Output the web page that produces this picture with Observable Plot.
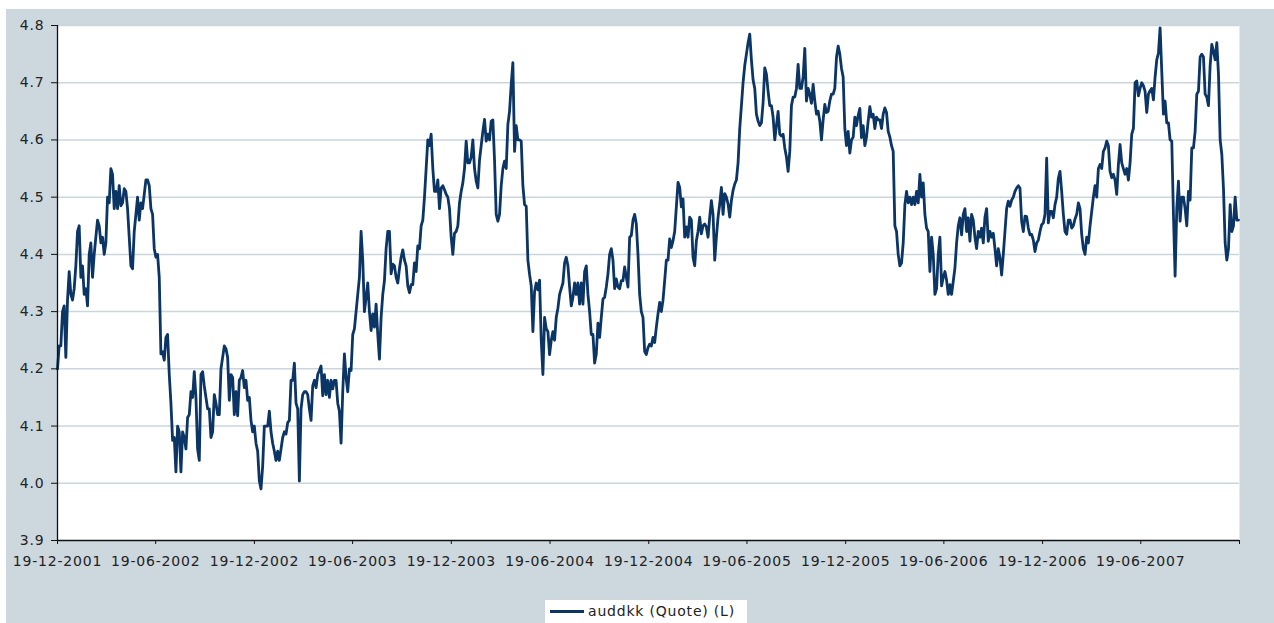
<!DOCTYPE html>
<html>
<head>
<meta charset="utf-8">
<script src="https://cdn.jsdelivr.net/npm/d3@7"></script>
<script src="https://cdn.jsdelivr.net/npm/@observablehq/plot@0.6"></script>
<style>
  html, body { margin: 0; padding: 0; background: #ffffff; width: 1274px; height: 623px; overflow: hidden; }
  #panel { position: absolute; left: 6px; top: 9px; width: 1268px; height: 614px; background: #ccd7de; }
  #chart { position: absolute; left: 0; top: 0; }
  #legend { position: absolute; left: 545px; top: 600px; width: 202px; height: 30px; background: #ffffff;
            font-family: "DejaVu Sans", Verdana, sans-serif; font-size: 14px; letter-spacing: 0.8px; color: #222; }
  #legend .sw { position: absolute; left: 5px; top: 10px; width: 34px; height: 3px; background: #0b3565; }
  #legend .tx { position: absolute; left: 43px; top: 3px; white-space: nowrap; }
</style>
</head>
<body>
<div id="panel"></div>
<div id="chart"></div>
<div id="legend"><div class="sw"></div><div class="tx"></div></div>
<script>
// ---- data ----
const seriesName = "auddkk (Quote) (L)";
const startDate = "19-12-2001";      // first sample
const stepDays = 3.092;              // sampling interval of the readings, in days

const seg1 = [
4.20, 4.24, 4.24, 4.30, 4.31, 4.22, 4.32, 4.37, 4.33, 4.32,
4.34, 4.38, 4.44, 4.45, 4.36, 4.38, 4.33, 4.34, 4.31, 4.40,
4.42, 4.36, 4.40, 4.43, 4.46, 4.45, 4.42, 4.43, 4.40, 4.42,
4.50, 4.49, 4.55, 4.54, 4.48, 4.51, 4.48, 4.52, 4.485, 4.49,
4.515, 4.51, 4.48, 4.43, 4.38, 4.375, 4.44, 4.47, 4.50, 4.46,
4.49, 4.48, 4.505, 4.53, 4.53, 4.52, 4.48, 4.47, 4.41, 4.395,
4.40, 4.36, 4.226, 4.23, 4.215, 4.255, 4.26, 4.19, 4.14, 4.075,
4.08, 4.02, 4.10, 4.09, 4.02, 4.09, 4.08, 4.06, 4.115, 4.12,
4.16, 4.15, 4.195, 4.15, 4.06, 4.04, 4.19, 4.195, 4.17, 4.15,
4.13, 4.13, 4.08, 4.09, 4.155, 4.14, 4.12, 4.12, 4.20, 4.22,
4.24];
const seg2 = [
4.235, 4.22, 4.145, 4.19, 4.185, 4.12, 4.16, 4.118, 4.18, 4.185,
4.197, 4.167, 4.18, 4.145, 4.15, 4.11, 4.09, 4.10, 4.07, 4.056,
4.004, 3.99, 4.03, 4.10, 4.10, 4.10, 4.126, 4.09, 4.07, 4.056,
4.04, 4.056, 4.04, 4.06, 4.08, 4.09, 4.086, 4.106, 4.11, 4.18,
4.18, 4.21, 4.14, 4.13, 4.004, 4.13, 4.155, 4.16, 4.16, 4.155,
4.13, 4.11, 4.17, 4.18, 4.167, 4.19, 4.197, 4.205, 4.153, 4.19,
4.155, 4.18, 4.15, 4.18, 4.165, 4.18, 4.18, 4.14, 4.126, 4.07,
4.16, 4.226, 4.185, 4.16, 4.20, 4.197, 4.26, 4.27, 4.30, 4.33,
4.36, 4.44, 4.39, 4.30, 4.325, 4.35, 4.30, 4.267, 4.296, 4.273,
4.313, 4.26, 4.217, 4.29, 4.33, 4.354, 4.41, 4.44, 4.44, 4.366,
4.383, 4.38];
const seg3 = [
4.36, 4.35, 4.375, 4.395, 4.408, 4.39, 4.38, 4.345, 4.333, 4.347,
4.347, 4.385, 4.37, 4.415, 4.41, 4.45, 4.46, 4.50, 4.55, 4.60,
4.59, 4.61, 4.55, 4.51, 4.51, 4.53, 4.48, 4.516, 4.52, 4.513,
4.505, 4.50, 4.48, 4.43, 4.40, 4.437, 4.44, 4.45, 4.49, 4.51,
4.525, 4.55, 4.598, 4.56, 4.56, 4.57, 4.60, 4.55, 4.528, 4.516,
4.565, 4.59, 4.615, 4.636, 4.598, 4.61, 4.60, 4.633, 4.635, 4.565,
4.47, 4.458, 4.47, 4.52, 4.55, 4.563, 4.55, 4.627, 4.65, 4.697,
4.735, 4.58, 4.625, 4.60, 4.60, 4.598, 4.52, 4.487, 4.484, 4.39,
4.365, 4.345, 4.265, 4.335, 4.35, 4.338, 4.355, 4.25, 4.19, 4.29,
4.27, 4.265, 4.225, 4.25, 4.265, 4.25, 4.29, 4.306, 4.33, 4.34,
4.35, 4.385];
const seg4 = [
4.395, 4.38, 4.343, 4.31, 4.325, 4.35, 4.33, 4.35, 4.313, 4.35,
4.313, 4.37, 4.38, 4.33, 4.30, 4.26, 4.26, 4.21, 4.226, 4.28,
4.255, 4.29, 4.322, 4.325, 4.343, 4.366, 4.40, 4.41, 4.39, 4.34,
4.357, 4.343, 4.34, 4.354, 4.354, 4.378, 4.36, 4.343, 4.43, 4.433,
4.46, 4.47, 4.453, 4.40, 4.33, 4.30, 4.29, 4.23, 4.225, 4.237,
4.243, 4.24, 4.255, 4.246, 4.273, 4.296, 4.316, 4.30, 4.32, 4.354,
4.39, 4.39, 4.427, 4.412, 4.424, 4.44, 4.483, 4.526, 4.517, 4.483,
4.497, 4.43, 4.448, 4.43, 4.465, 4.46, 4.395, 4.38, 4.424, 4.44,
4.465, 4.436, 4.45, 4.453, 4.448, 4.43, 4.465, 4.494, 4.47, 4.39,
4.43, 4.465, 4.488, 4.517, 4.47, 4.506, 4.50, 4.488, 4.465, 4.494,
4.512, 4.523];
const seg5 = [
4.53, 4.56, 4.62, 4.66, 4.70, 4.73, 4.75, 4.77, 4.785, 4.74,
4.705, 4.69, 4.645, 4.633, 4.625, 4.63, 4.665, 4.726, 4.715, 4.685,
4.66, 4.66, 4.64, 4.60, 4.625, 4.65, 4.61, 4.607, 4.61, 4.586,
4.57, 4.545, 4.58, 4.66, 4.675, 4.675, 4.69, 4.732, 4.69, 4.69,
4.71, 4.76, 4.668, 4.69, 4.68, 4.664, 4.697, 4.668, 4.645, 4.65,
4.633, 4.60, 4.635, 4.662, 4.648, 4.65, 4.668, 4.68, 4.68, 4.69,
4.745, 4.764, 4.75, 4.725, 4.71, 4.62, 4.59, 4.615, 4.577, 4.60,
4.605, 4.64, 4.625, 4.643, 4.655, 4.604, 4.625, 4.59, 4.605, 4.633,
4.658, 4.64, 4.645, 4.62, 4.64, 4.635, 4.635, 4.62, 4.645, 4.656,
4.648, 4.615, 4.605, 4.59, 4.58, 4.45, 4.44, 4.40, 4.38, 4.385,
4.42, 4.487];
const seg6 = [
4.51, 4.49, 4.50, 4.487, 4.50, 4.487, 4.51, 4.49, 4.54, 4.50,
4.525, 4.47, 4.446, 4.44, 4.37, 4.43, 4.40, 4.33, 4.34, 4.40,
4.43, 4.345, 4.36, 4.37, 4.355, 4.33, 4.347, 4.33, 4.353, 4.376,
4.42, 4.45, 4.464, 4.434, 4.47, 4.48, 4.44, 4.464, 4.423, 4.47,
4.46, 4.43, 4.41, 4.44, 4.43, 4.446, 4.42, 4.465, 4.48, 4.423,
4.44, 4.43, 4.437, 4.41, 4.38, 4.41, 4.394, 4.364, 4.40, 4.44,
4.48, 4.493, 4.484, 4.495, 4.50, 4.51, 4.516, 4.52, 4.516, 4.458,
4.44, 4.467, 4.466, 4.446, 4.434, 4.435, 4.425, 4.405, 4.42, 4.425,
4.44, 4.452, 4.455, 4.47, 4.568, 4.455, 4.475, 4.475, 4.464, 4.487,
4.50, 4.533, 4.545, 4.51, 4.47, 4.44, 4.435, 4.46, 4.46, 4.446,
4.45, 4.462];
const seg7 = [
4.47, 4.49, 4.48, 4.435, 4.41, 4.40, 4.43, 4.42, 4.45, 4.475,
4.50, 4.52, 4.50, 4.55, 4.557, 4.55, 4.58, 4.586, 4.598, 4.59,
4.545, 4.534, 4.54, 4.53, 4.505, 4.557, 4.592, 4.56, 4.55, 4.54,
4.55, 4.53, 4.56, 4.61, 4.62, 4.70, 4.703, 4.677, 4.69, 4.70,
4.695, 4.685, 4.648, 4.68, 4.686, 4.69, 4.67, 4.71, 4.74, 4.752,
4.796, 4.72, 4.645, 4.668, 4.63, 4.63, 4.60, 4.598, 4.47, 4.362,
4.48, 4.528, 4.458, 4.50, 4.50, 4.48, 4.45, 4.51, 4.495, 4.586,
4.586, 4.615, 4.68, 4.685, 4.745, 4.75, 4.745, 4.68, 4.675, 4.66,
4.73, 4.767, 4.755, 4.74, 4.77, 4.715, 4.60, 4.575, 4.515, 4.42,
4.39, 4.41, 4.487, 4.44, 4.45, 4.50, 4.46, 4.46];

const yTicks = [3.9, 4.0, 4.1, 4.2, 4.3, 4.4, 4.5, 4.6, 4.7, 4.8];
const xTickLabels = ["19-12-2001", "19-06-2002", "19-12-2002", "19-06-2003", "19-12-2003", "19-06-2004",
                     "19-12-2004", "19-06-2005", "19-12-2005", "19-06-2006", "19-12-2006", "19-06-2007"];
const xEnd = "19-12-2007";

// ---- build ----
const parse = d3.utcParse("%d-%m-%Y");
const fmt = d3.utcFormat("%d-%m-%Y");
const quotes = [...seg1, ...seg2, ...seg3, ...seg4, ...seg5, ...seg6, ...seg7];
const t0 = parse(startDate).getTime();
const data = quotes.map((v, i) => ({date: new Date(t0 + i * stepDays * 864e5), value: v}));
const xTicks = [...xTickLabels, xEnd].map(parse);
const labelled = new Set(xTickLabels);

const chart = Plot.plot({
  width: 1274,
  height: 580,
  marginLeft: 57,
  marginRight: 35,
  marginTop: 25,
  marginBottom: 40,
  style: {background: "transparent", fontFamily: "'DejaVu Sans', Verdana, sans-serif", fontSize: "14px", letterSpacing: "0.8px", color: "#222", overflow: "visible"},
  x: {type: "utc", domain: [parse(startDate), parse(xEnd)], label: null},
  y: {domain: [3.9, 4.8], label: null},
  marks: [
    Plot.frame({fill: "white", stroke: "none"}),
    Plot.ruleY(yTicks.filter(d => d > 3.9), {stroke: "#cbd5dc", strokeWidth: 1.5}),
    Plot.line(data, {x: "date", y: "value", stroke: "#0b3565", strokeWidth: 2.8, strokeLinejoin: "round"}),
    Plot.ruleX([parse(startDate)], {stroke: "#111", strokeWidth: 1.3}),
    Plot.ruleY([3.9], {stroke: "#111", strokeWidth: 1.3}),
    Plot.axisY({ticks: yTicks, tickSize: 6, tickPadding: 7, tickFormat: d3.format(".1f"), stroke: "#111", label: null}),
    Plot.axisX({ticks: xTicks, tickSize: 4, tickPadding: 12, stroke: "#111", label: null,
                tickFormat: d => labelled.has(fmt(d)) ? fmt(d) : ""})
  ]
});
document.getElementById("chart").appendChild(chart);
document.querySelector("#legend .tx").textContent = seriesName;
</script>
</body>
</html>
